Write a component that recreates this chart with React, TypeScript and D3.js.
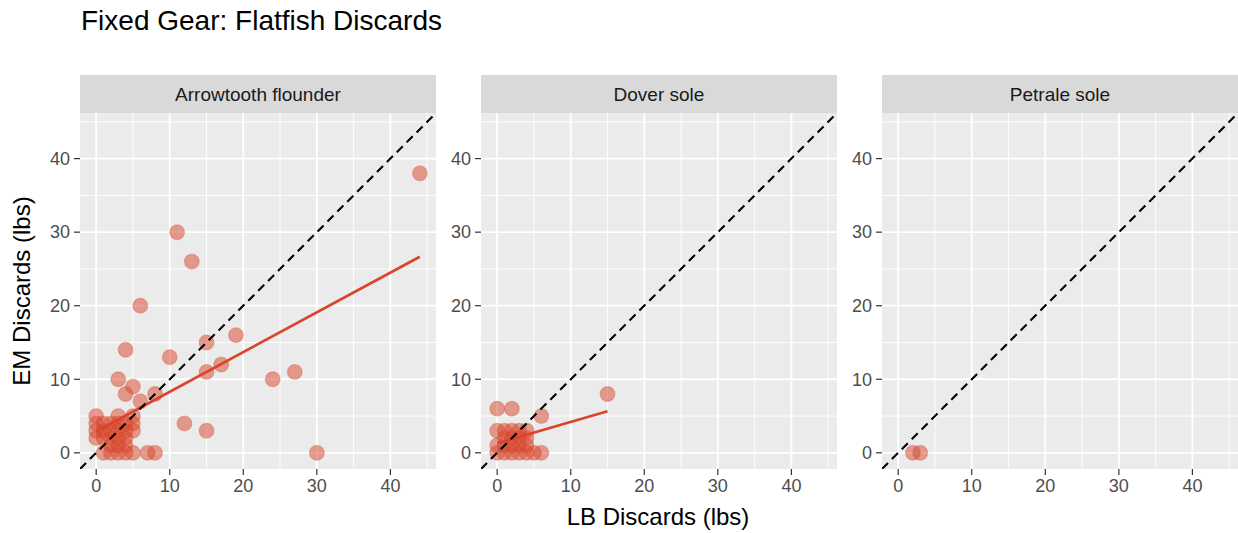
import React from "react";
import * as d3 from "d3";

const title = "Fixed Gear: Flatfish Discards";
const panelNames = ["Arrowtooth flounder", "Dover sole", "Petrale sole"];
const xTitle = "LB Discards (lbs)";
const yTitle = "EM Discards (lbs)";
const majorTicks = [0, 10, 20, 30, 40];
const minorTicks = [5, 15, 25, 35, 45];

// Arrowtooth flounder (LB, EM)
const arrowLB = [44, 11, 13, 6, 19, 15, 4, 10, 17, 15, 27, 24, 3, 5, 4, 8, 6, 12, 15, 30,
  0, 0, 0, 0, 1, 1, 1, 2, 2, 2, 2, 3, 3, 3, 3, 3, 4, 4, 4, 4, 5, 5, 5, 1, 2, 3, 4, 5, 7, 8];
const arrowEM = [38, 30, 26, 20, 16, 15, 14, 13, 12, 11, 11, 10, 10, 9, 8, 8, 7, 4, 3, 0,
  5, 4, 3, 2, 4, 3, 2, 4, 3, 2, 1, 5, 4, 3, 2, 1, 4, 3, 2, 1, 5, 4, 3, 0, 0, 0, 0, 0, 0, 0];
// Dover sole
const doverLB = [15, 0, 2, 6, 0, 1, 2, 3, 4, 1, 2, 3, 4, 0, 1, 2, 3, 4, 0, 1, 2, 3, 4, 5, 6];
const doverEM = [8, 6, 6, 5, 3, 3, 3, 3, 3, 2, 2, 2, 2, 1, 1, 1, 1, 1, 0, 0, 0, 0, 0, 0, 0];
// Petrale sole
const petraleLB = [2, 3];
const petraleEM = [0, 0];

const panelLB = [arrowLB, doverLB, petraleLB];
const panelEM = [arrowEM, doverEM, petraleEM];
// linear fits
const fitIntercept = [2.9, 1.3, NaN];
const fitSlope = [0.54, 0.29, NaN];
const fitXmin = [0, 0, NaN];
const fitXmax = [44, 15, NaN];

const W = 1238, H = 533;
const panelLeft = [80, 481, 882];
const panelW = 356;
const top = 113, bottom = 469, stripTop = 75;
const domain: [number, number] = [-2.2, 46.2];
const font = "'Liberation Sans', Arial, sans-serif";
const pointColor = "#D8452A";

export default function App() {
  const y = d3.scaleLinear().domain(domain).range([bottom, top]);
  return (
    <div style={{ position: "fixed", left: 0, top: 0 }}>
      <svg width={W} height={H} style={{ display: "block", background: "#fff" }} fontFamily={font}>
        <defs>
          {panelLeft.map((l, i) => (
            <clipPath id={`clip${i}`} key={i}>
              <rect x={l} y={top} width={panelW} height={bottom - top} />
            </clipPath>
          ))}
        </defs>
        <text x={81} y={29.5} fontSize={28} fill="#000">{title}</text>
        {panelLeft.map((l, i) => {
          const x = d3.scaleLinear().domain(domain).range([l, l + panelW]);
          const lb = panelLB[i], em = panelEM[i];
          const hasFit = !isNaN(fitSlope[i]);
          const line = d3.line<number>().x((v) => x(v)).y((v) => y(fitIntercept[i] + fitSlope[i] * v));
          return (
            <g key={i}>
              <rect x={l} y={stripTop} width={panelW} height={top - stripTop} fill="#D9D9D9" />
              <text x={l + panelW / 2} y={100.5} fontSize={19} fill="#1A1A1A" textAnchor="middle">{panelNames[i]}</text>
              <rect x={l} y={top} width={panelW} height={bottom - top} fill="#EBEBEB" />
              <g clipPath={`url(#clip${i})`}>
                {minorTicks.map((t) => (
                  <g key={"m" + t}>
                    <line x1={x(t)} x2={x(t)} y1={top} y2={bottom} stroke="#fff" strokeWidth={0.9} />
                    <line x1={l} x2={l + panelW} y1={y(t)} y2={y(t)} stroke="#fff" strokeWidth={0.9} />
                  </g>
                ))}
                {majorTicks.map((t) => (
                  <g key={"M" + t}>
                    <line x1={x(t)} x2={x(t)} y1={top} y2={bottom} stroke="#fff" strokeWidth={1.8} />
                    <line x1={l} x2={l + panelW} y1={y(t)} y2={y(t)} stroke="#fff" strokeWidth={1.8} />
                  </g>
                ))}
                {lb.map((v, j) => (
                  <circle key={j} cx={x(v)} cy={y(em[j])} r={7.4} fill={pointColor} fillOpacity={0.5}
                    stroke={pointColor} strokeOpacity={0.3} strokeWidth={1.2} />
                ))}
                {hasFit && (
                  <path d={line([fitXmin[i], fitXmax[i]]) || ""} fill="none" stroke="#D9452B" strokeWidth={2.7} />
                )}
                <line x1={x(domain[0])} y1={y(domain[0])} x2={x(domain[1])} y2={y(domain[1])}
                  stroke="#000" strokeWidth={2.1} strokeDasharray="8.5,5.5" />
              </g>
              {majorTicks.map((t) => (
                <g key={"t" + t}>
                  <line x1={x(t)} x2={x(t)} y1={bottom} y2={bottom + 6} stroke="#333" strokeWidth={1.2} />
                  <text x={x(t)} y={492} fontSize={18} fill="#4D4D4D" textAnchor="middle">{t}</text>
                  <line x1={l - 6} x2={l} y1={y(t)} y2={y(t)} stroke="#333" strokeWidth={1.2} />
                  <text x={l - 10} y={y(t) + 6.3} fontSize={18} fill="#4D4D4D" textAnchor="end">{t}</text>
                </g>
              ))}
            </g>
          );
        })}
        <text x={658} y={525} fontSize={24} fill="#000" textAnchor="middle">{xTitle}</text>
        <text transform={`translate(30,${(top + bottom) / 2}) rotate(-90)`} fontSize={24} fill="#000" textAnchor="middle">{yTitle}</text>
      </svg>
    </div>
  );
}
